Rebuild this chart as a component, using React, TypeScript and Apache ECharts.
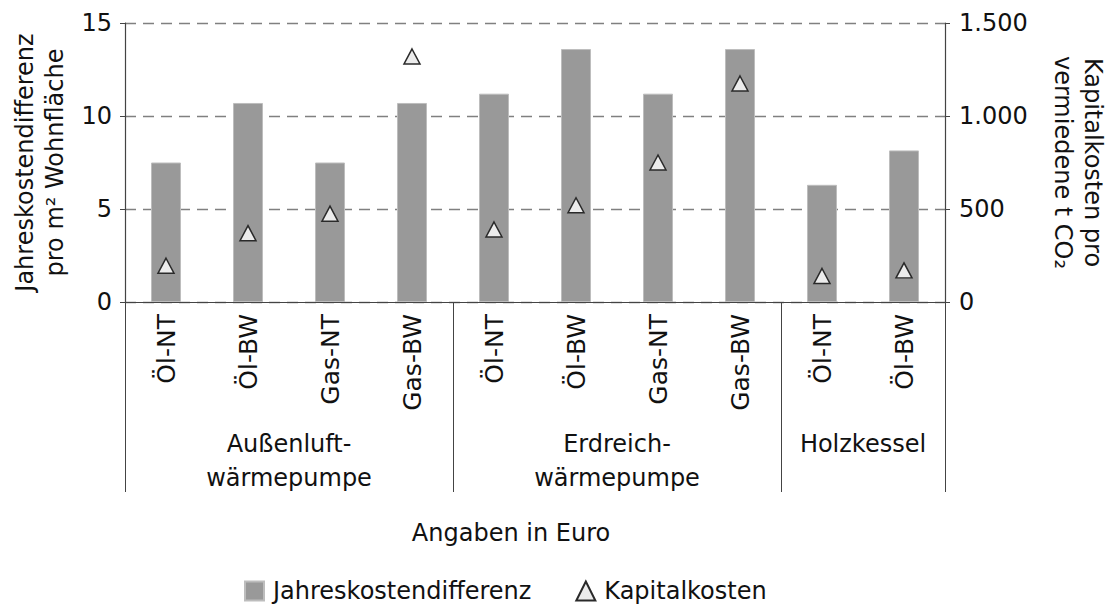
import React, { useEffect, useRef } from 'react';
import * as echarts from 'echarts';

const categories = ['Öl-NT', 'Öl-BW', 'Gas-NT', 'Gas-BW', 'Öl-NT', 'Öl-BW', 'Gas-NT', 'Gas-BW', 'Öl-NT', 'Öl-BW'];
const jahreskostendifferenz = [7.5, 10.7, 7.5, 10.7, 11.2, 13.6, 11.2, 13.6, 6.3, 8.15];
const kapitalkosten = [195, 370, 475, 1320, 390, 520, 750, 1175, 140, 170];
const groupNames = ['Außenluft-\nwärmepumpe', 'Erdreich-\nwärmepumpe', 'Holzkessel'];
const groupFirst = [0, 4, 8];
const groupLast = [3, 7, 9];
const leftMax = 15;
const leftInterval = 5;
const rightMax = 1500;
const rightInterval = 500;

const FONT = '"DejaVu Sans", sans-serif';
const TEXT = '#111111';
const AXIS = '#444444';

const fmtThousands = (v: number) => String(v).replace(/\B(?=(\d{3})+(?!\d))/g, '.');

export default function App() {
  const ref = useRef<HTMLDivElement>(null);
  useEffect(() => {
    if (!ref.current) return;
    const chart = echarts.init(ref.current, undefined, { renderer: 'svg' });
    const option: any = {
      animation: false,
      textStyle: { fontFamily: FONT, color: TEXT },
      grid: { left: 125, right: 165, top: 23, bottom: 302, outerBoundsMode: 'none' },
      legend: {
        left: 239,
        top: 574,
        itemGap: 44,
        itemWidth: 19,
        itemHeight: 19,
        textStyle: { fontSize: 24, color: TEXT, fontFamily: FONT, padding: [0, 0, 0, 4] },
        data: [
          { name: 'Jahreskostendifferenz', icon: 'rect' },
          { name: 'Kapitalkosten', icon: 'triangle' },
        ],
      },
      xAxis: {
        type: 'category',
        data: categories,
        boundaryGap: true,
        axisLine: { show: true, lineStyle: { color: AXIS, width: 1.2 } },
        axisTick: {
          show: true,
          length: 190,
          interval: (index: number) => groupFirst.includes(index),
          lineStyle: { color: AXIS, width: 1 },
        },
        axisLabel: {
          rotate: 90,
          margin: 12,
          fontSize: 25,
          color: TEXT,
          fontFamily: FONT,
          interval: 0,
        },
        splitLine: { show: false },
      },
      yAxis: [
        {
          type: 'value',
          min: 0,
          max: leftMax,
          interval: leftInterval,
          position: 'left',
          name: 'Jahreskostendifferenz\npro m² Wohnfläche',
          nameLocation: 'middle',
          nameRotate: 90,
          nameGap: 55,
          nameMoveOverlap: false,
          nameTextStyle: { fontSize: 24, lineHeight: 30, color: TEXT, fontFamily: FONT },
          axisLine: { show: true, lineStyle: { color: AXIS, width: 1.2 } },
          axisTick: { show: true, length: 5, lineStyle: { color: AXIS } },
          axisLabel: { fontSize: 24, margin: 13, color: TEXT, fontFamily: FONT },
          splitLine: { show: true, lineStyle: { color: '#808080', type: [11, 7], width: 1.3 } },
        },
        {
          type: 'value',
          min: 0,
          max: rightMax,
          interval: rightInterval,
          position: 'right',
          name: 'Kapitalkosten pro\nvermiedene t CO₂',
          nameLocation: 'middle',
          nameRotate: -90,
          nameGap: 103,
          nameMoveOverlap: false,
          nameTextStyle: { fontSize: 24, lineHeight: 30, color: TEXT, fontFamily: FONT },
          axisLine: { show: true, lineStyle: { color: AXIS, width: 1.2 } },
          axisTick: { show: true, length: 5, lineStyle: { color: AXIS } },
          axisLabel: { fontSize: 24, margin: 14, color: TEXT, fontFamily: FONT, formatter: fmtThousands },
          splitLine: { show: false },
        },
      ],
      series: [
        {
          name: 'Jahreskostendifferenz',
          type: 'bar',
          data: jahreskostendifferenz,
          barWidth: 30,
          itemStyle: { color: '#999999', borderColor: '#bdbdbd', borderWidth: 1 },
        },
        {
          name: 'Kapitalkosten',
          type: 'scatter',
          yAxisIndex: 1,
          data: kapitalkosten,
          symbol: 'triangle',
          symbolSize: [16, 15],
          itemStyle: { color: '#ececec', borderColor: '#2a2a2a', borderWidth: 1.5, opacity: 1 },
          z: 5,
        },
      ],
    };
    chart.setOption(option);

    const graphics: any[] = groupNames.map((name, i) => {
      const x1 = chart.convertToPixel({ xAxisIndex: 0 }, groupFirst[i]) as number;
      const x2 = chart.convertToPixel({ xAxisIndex: 0 }, groupLast[i]) as number;
      return {
        type: 'text',
        x: (x1 + x2) / 2,
        y: 427,
        style: {
          text: name,
          fontSize: 24,
          lineHeight: 34,
          fontFamily: FONT,
          fill: TEXT,
          align: 'center',
          verticalAlign: 'top',
        },
      };
    });
    graphics.push({
      type: 'text',
      x: 511,
      y: 533,
      style: {
        text: 'Angaben in Euro',
        fontSize: 24,
        fontFamily: FONT,
        fill: TEXT,
        align: 'center',
        verticalAlign: 'middle',
      },
    });
    chart.setOption({ graphic: graphics });

    return () => chart.dispose();
  }, []);
  return <div ref={ref} style={{ position: 'absolute', left: 0, top: 0, width: 1110, height: 604 }} />;
}
